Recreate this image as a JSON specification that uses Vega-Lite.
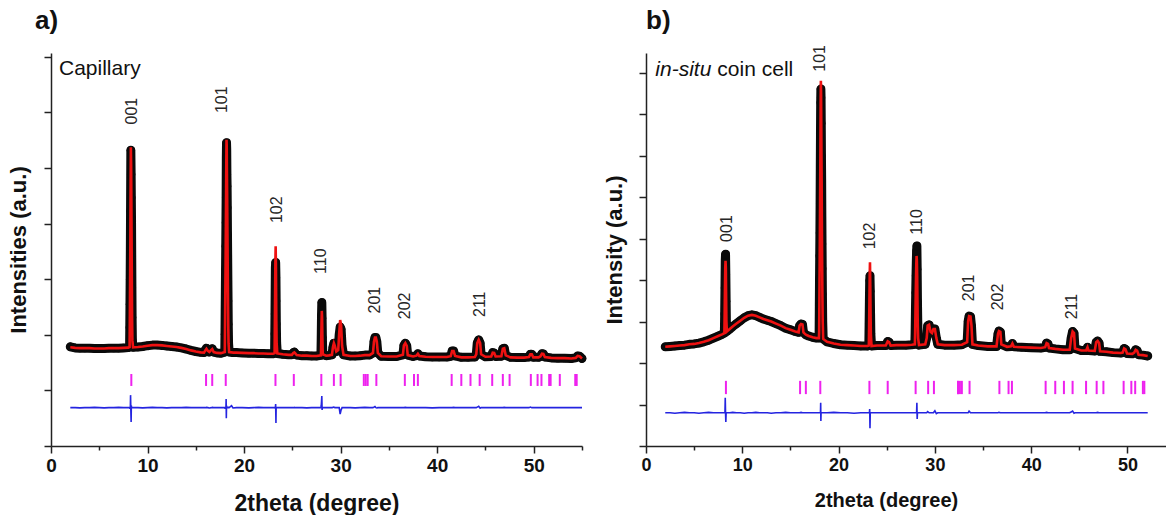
{
  "$schema": "https://vega.github.io/schema/vega-lite/v6.json",
  "padding": {"left": 7, "top": 8, "right": 0, "bottom": 0},
  "spacing": 15,
  "config": {
    "font": "Liberation Sans",
    "view": {"stroke": null},
    "axis": {
      "grid": false,
      "domainColor": "#222222",
      "tickColor": "#222222",
      "domainWidth": 1.5,
      "tickWidth": 1.5,
      "labelFont": "Liberation Sans",
      "labelFontWeight": "bold",
      "labelColor": "#111111",
      "titleFont": "Liberation Sans",
      "titleFontWeight": "bold",
      "titleColor": "#111111"
    }
  },
  "datasets": {
    "capillary": [
      {"tt": 2.0, "obs": 3.57, "calc": 3.55, "diff": 1.38},
      {"tt": 2.5, "obs": 3.53, "calc": 3.53, "diff": 1.38},
      {"tt": 3.0, "obs": 3.52, "calc": 3.52, "diff": 1.37},
      {"tt": 3.5, "obs": 3.52, "calc": 3.52, "diff": 1.38},
      {"tt": 4.0, "obs": 3.52, "calc": 3.52, "diff": 1.38},
      {"tt": 4.5, "obs": 3.51, "calc": 3.51, "diff": 1.39},
      {"tt": 5.0, "obs": 3.51, "calc": 3.51, "diff": 1.38},
      {"tt": 5.5, "obs": 3.51, "calc": 3.51, "diff": 1.37},
      {"tt": 6.0, "obs": 3.52, "calc": 3.52, "diff": 1.38},
      {"tt": 6.5, "obs": 3.52, "calc": 3.52, "diff": 1.38},
      {"tt": 7.0, "obs": 3.52, "calc": 3.52, "diff": 1.39},
      {"tt": 7.5, "obs": 3.53, "calc": 3.53, "diff": 1.38},
      {"tt": 8.0, "obs": 3.54, "calc": 3.54, "diff": 1.38},
      {"tt": 8.14, "obs": 3.56, "calc": 3.56, "diff": 1.38},
      {"tt": 8.16, "obs": 4.26, "calc": 4.35, "diff": 1.36},
      {"tt": 8.18, "obs": 5.1, "calc": 5.3, "diff": 1.36},
      {"tt": 8.2, "obs": 6.0, "calc": 6.3, "diff": 1.38},
      {"tt": 8.22, "obs": 7.07, "calc": 7.5, "diff": 1.38},
      {"tt": 8.24, "obs": 8.45, "calc": 9.0, "diff": 1.83},
      {"tt": 8.27, "obs": 10.64, "calc": 10.75, "diff": 1.3},
      {"tt": 8.3, "obs": 9.77, "calc": 10.1, "diff": 0.86},
      {"tt": 8.32, "obs": 8.93, "calc": 9.0, "diff": 1.45},
      {"tt": 8.34, "obs": 8.15, "calc": 7.9, "diff": 1.4},
      {"tt": 8.36, "obs": 6.9, "calc": 6.7, "diff": 1.38},
      {"tt": 8.38, "obs": 5.69, "calc": 5.6, "diff": 1.38},
      {"tt": 8.4, "obs": 4.62, "calc": 4.6, "diff": 1.38},
      {"tt": 8.43, "obs": 3.8, "calc": 3.8, "diff": 1.38},
      {"tt": 8.5, "obs": 3.55, "calc": 3.55, "diff": 1.38},
      {"tt": 9.0, "obs": 3.56, "calc": 3.56, "diff": 1.38},
      {"tt": 9.5, "obs": 3.58, "calc": 3.58, "diff": 1.37},
      {"tt": 10.0, "obs": 3.61, "calc": 3.61, "diff": 1.38},
      {"tt": 10.5, "obs": 3.63, "calc": 3.63, "diff": 1.39},
      {"tt": 11.0, "obs": 3.63, "calc": 3.63, "diff": 1.38},
      {"tt": 11.5, "obs": 3.62, "calc": 3.62, "diff": 1.38},
      {"tt": 12.0, "obs": 3.6, "calc": 3.6, "diff": 1.37},
      {"tt": 12.5, "obs": 3.58, "calc": 3.58, "diff": 1.38},
      {"tt": 13.0, "obs": 3.56, "calc": 3.56, "diff": 1.38},
      {"tt": 13.5, "obs": 3.53, "calc": 3.53, "diff": 1.38},
      {"tt": 14.0, "obs": 3.49, "calc": 3.49, "diff": 1.39},
      {"tt": 14.5, "obs": 3.44, "calc": 3.44, "diff": 1.38},
      {"tt": 15.0, "obs": 3.4, "calc": 3.4, "diff": 1.38},
      {"tt": 15.5, "obs": 3.37, "calc": 3.37, "diff": 1.38},
      {"tt": 15.85, "obs": 3.36, "calc": 3.36, "diff": 1.38},
      {"tt": 16.0, "obs": 3.46, "calc": 3.45, "diff": 1.38},
      {"tt": 16.1, "obs": 3.52, "calc": 3.5, "diff": 1.39},
      {"tt": 16.25, "obs": 3.42, "calc": 3.42, "diff": 1.38},
      {"tt": 16.4, "obs": 3.38, "calc": 3.38, "diff": 1.37},
      {"tt": 16.6, "obs": 3.47, "calc": 3.46, "diff": 1.38},
      {"tt": 16.7, "obs": 3.5, "calc": 3.49, "diff": 1.39},
      {"tt": 16.85, "obs": 3.38, "calc": 3.38, "diff": 1.38},
      {"tt": 17.2, "obs": 3.35, "calc": 3.35, "diff": 1.38},
      {"tt": 17.6, "obs": 3.34, "calc": 3.34, "diff": 1.38},
      {"tt": 18.0, "obs": 3.38, "calc": 3.38, "diff": 1.38},
      {"tt": 18.02, "obs": 4.02, "calc": 4.1, "diff": 1.36},
      {"tt": 18.04, "obs": 4.86, "calc": 5.0, "diff": 1.36},
      {"tt": 18.06, "obs": 5.58, "calc": 5.7, "diff": 1.37},
      {"tt": 18.08, "obs": 6.36, "calc": 6.5, "diff": 1.38},
      {"tt": 18.1, "obs": 7.19, "calc": 7.4, "diff": 1.38},
      {"tt": 18.12, "obs": 8.03, "calc": 8.3, "diff": 1.38},
      {"tt": 18.14, "obs": 8.93, "calc": 9.3, "diff": 1.69},
      {"tt": 18.16, "obs": 10.37, "calc": 10.3, "diff": 1.0},
      {"tt": 18.18, "obs": 10.91, "calc": 11.02, "diff": 1.45},
      {"tt": 18.2, "obs": 10.67, "calc": 10.8, "diff": 1.38},
      {"tt": 18.22, "obs": 9.77, "calc": 9.9, "diff": 1.38},
      {"tt": 18.24, "obs": 9.35, "calc": 9.2, "diff": 1.38},
      {"tt": 18.26, "obs": 8.57, "calc": 8.4, "diff": 1.38},
      {"tt": 18.28, "obs": 7.61, "calc": 7.5, "diff": 1.38},
      {"tt": 18.3, "obs": 6.77, "calc": 6.6, "diff": 1.38},
      {"tt": 18.32, "obs": 5.94, "calc": 5.8, "diff": 1.38},
      {"tt": 18.34, "obs": 5.22, "calc": 5.0, "diff": 1.39},
      {"tt": 18.36, "obs": 4.38, "calc": 4.3, "diff": 1.38},
      {"tt": 18.39, "obs": 3.7, "calc": 3.7, "diff": 1.38},
      {"tt": 18.45, "obs": 3.38, "calc": 3.38, "diff": 1.38},
      {"tt": 18.7, "obs": 3.37, "calc": 3.37, "diff": 1.45},
      {"tt": 18.85, "obs": 3.36, "calc": 3.36, "diff": 1.37},
      {"tt": 19.2, "obs": 3.36, "calc": 3.36, "diff": 1.38},
      {"tt": 19.8, "obs": 3.35, "calc": 3.35, "diff": 1.38},
      {"tt": 20.5, "obs": 3.34, "calc": 3.34, "diff": 1.37},
      {"tt": 21.0, "obs": 3.34, "calc": 3.34, "diff": 1.38},
      {"tt": 21.5, "obs": 3.33, "calc": 3.33, "diff": 1.39},
      {"tt": 22.0, "obs": 3.33, "calc": 3.33, "diff": 1.38},
      {"tt": 22.5, "obs": 3.32, "calc": 3.32, "diff": 1.38},
      {"tt": 23.0, "obs": 3.32, "calc": 3.32, "diff": 1.38},
      {"tt": 23.16, "obs": 3.34, "calc": 3.34, "diff": 1.38},
      {"tt": 23.18, "obs": 4.03, "calc": 4.1, "diff": 1.38},
      {"tt": 23.2, "obs": 4.75, "calc": 4.9, "diff": 1.37},
      {"tt": 23.22, "obs": 5.58, "calc": 5.8, "diff": 1.37},
      {"tt": 23.24, "obs": 6.41, "calc": 6.6, "diff": 1.38},
      {"tt": 23.27, "obs": 6.6, "calc": 7.19, "diff": 1.51},
      {"tt": 23.3, "obs": 6.05, "calc": 6.4, "diff": 0.83},
      {"tt": 23.32, "obs": 5.22, "calc": 5.4, "diff": 1.38},
      {"tt": 23.34, "obs": 4.39, "calc": 4.5, "diff": 1.38},
      {"tt": 23.37, "obs": 3.7, "calc": 3.7, "diff": 1.38},
      {"tt": 23.44, "obs": 3.33, "calc": 3.33, "diff": 1.38},
      {"tt": 24.0, "obs": 3.3, "calc": 3.3, "diff": 1.38},
      {"tt": 24.6, "obs": 3.28, "calc": 3.28, "diff": 1.38},
      {"tt": 24.95, "obs": 3.28, "calc": 3.28, "diff": 1.38},
      {"tt": 25.1, "obs": 3.36, "calc": 3.35, "diff": 1.38},
      {"tt": 25.2, "obs": 3.38, "calc": 3.37, "diff": 1.39},
      {"tt": 25.3, "obs": 3.33, "calc": 3.33, "diff": 1.38},
      {"tt": 25.45, "obs": 3.27, "calc": 3.27, "diff": 1.38},
      {"tt": 26.0, "obs": 3.25, "calc": 3.25, "diff": 1.38},
      {"tt": 26.5, "obs": 3.25, "calc": 3.25, "diff": 1.37},
      {"tt": 27.0, "obs": 3.24, "calc": 3.24, "diff": 1.38},
      {"tt": 27.5, "obs": 3.24, "calc": 3.24, "diff": 1.38},
      {"tt": 27.96, "obs": 3.26, "calc": 3.26, "diff": 1.38},
      {"tt": 27.99, "obs": 3.9, "calc": 3.8, "diff": 1.45},
      {"tt": 28.02, "obs": 4.7, "calc": 4.4, "diff": 1.6},
      {"tt": 28.05, "obs": 5.16, "calc": 4.86, "diff": 1.8},
      {"tt": 28.08, "obs": 4.6, "calc": 4.6, "diff": 1.3},
      {"tt": 28.11, "obs": 3.9, "calc": 3.9, "diff": 1.38},
      {"tt": 28.15, "obs": 3.3, "calc": 3.3, "diff": 1.38},
      {"tt": 28.5, "obs": 3.25, "calc": 3.25, "diff": 1.38},
      {"tt": 28.8, "obs": 3.26, "calc": 3.26, "diff": 1.38},
      {"tt": 29.1, "obs": 3.28, "calc": 3.28, "diff": 1.38},
      {"tt": 29.2, "obs": 3.55, "calc": 3.55, "diff": 1.39},
      {"tt": 29.3, "obs": 3.7, "calc": 3.7, "diff": 1.4},
      {"tt": 29.4, "obs": 3.6, "calc": 3.6, "diff": 1.38},
      {"tt": 29.55, "obs": 3.4, "calc": 3.4, "diff": 1.38},
      {"tt": 29.75, "obs": 3.45, "calc": 3.45, "diff": 1.38},
      {"tt": 29.85, "obs": 4.0, "calc": 4.05, "diff": 1.38},
      {"tt": 29.95, "obs": 4.28, "calc": 4.53, "diff": 1.15},
      {"tt": 30.05, "obs": 4.2, "calc": 4.35, "diff": 1.3},
      {"tt": 30.15, "obs": 3.6, "calc": 3.6, "diff": 1.38},
      {"tt": 30.3, "obs": 3.28, "calc": 3.28, "diff": 1.38},
      {"tt": 31.0, "obs": 3.24, "calc": 3.24, "diff": 1.38},
      {"tt": 31.5, "obs": 3.24, "calc": 3.24, "diff": 1.37},
      {"tt": 32.0, "obs": 3.25, "calc": 3.25, "diff": 1.38},
      {"tt": 32.5, "obs": 3.27, "calc": 3.27, "diff": 1.39},
      {"tt": 33.0, "obs": 3.27, "calc": 3.27, "diff": 1.38},
      {"tt": 33.35, "obs": 3.35, "calc": 3.35, "diff": 1.38},
      {"tt": 33.45, "obs": 3.75, "calc": 3.75, "diff": 1.4},
      {"tt": 33.55, "obs": 3.9, "calc": 3.9, "diff": 1.42},
      {"tt": 33.65, "obs": 3.9, "calc": 3.9, "diff": 1.38},
      {"tt": 33.75, "obs": 3.75, "calc": 3.75, "diff": 1.37},
      {"tt": 33.85, "obs": 3.35, "calc": 3.35, "diff": 1.38},
      {"tt": 34.2, "obs": 3.23, "calc": 3.23, "diff": 1.38},
      {"tt": 35.0, "obs": 3.22, "calc": 3.22, "diff": 1.38},
      {"tt": 35.8, "obs": 3.22, "calc": 3.22, "diff": 1.38},
      {"tt": 36.45, "obs": 3.28, "calc": 3.28, "diff": 1.38},
      {"tt": 36.55, "obs": 3.62, "calc": 3.62, "diff": 1.38},
      {"tt": 36.7, "obs": 3.7, "calc": 3.7, "diff": 1.39},
      {"tt": 36.85, "obs": 3.6, "calc": 3.6, "diff": 1.38},
      {"tt": 36.95, "obs": 3.27, "calc": 3.27, "diff": 1.38},
      {"tt": 37.5, "obs": 3.22, "calc": 3.22, "diff": 1.38},
      {"tt": 37.85, "obs": 3.25, "calc": 3.25, "diff": 1.38},
      {"tt": 38.0, "obs": 3.32, "calc": 3.32, "diff": 1.38},
      {"tt": 38.15, "obs": 3.24, "calc": 3.24, "diff": 1.38},
      {"tt": 38.8, "obs": 3.21, "calc": 3.21, "diff": 1.38},
      {"tt": 39.5, "obs": 3.2, "calc": 3.2, "diff": 1.37},
      {"tt": 40.2, "obs": 3.2, "calc": 3.2, "diff": 1.38},
      {"tt": 41.0, "obs": 3.2, "calc": 3.2, "diff": 1.38},
      {"tt": 41.4, "obs": 3.23, "calc": 3.23, "diff": 1.38},
      {"tt": 41.55, "obs": 3.42, "calc": 3.42, "diff": 1.38},
      {"tt": 41.7, "obs": 3.42, "calc": 3.42, "diff": 1.39},
      {"tt": 41.85, "obs": 3.24, "calc": 3.24, "diff": 1.38},
      {"tt": 42.5, "obs": 3.19, "calc": 3.19, "diff": 1.38},
      {"tt": 43.2, "obs": 3.19, "calc": 3.19, "diff": 1.38},
      {"tt": 43.9, "obs": 3.2, "calc": 3.2, "diff": 1.38},
      {"tt": 44.05, "obs": 3.3, "calc": 3.3, "diff": 1.38},
      {"tt": 44.15, "obs": 3.7, "calc": 3.7, "diff": 1.4},
      {"tt": 44.3, "obs": 3.82, "calc": 3.82, "diff": 1.43},
      {"tt": 44.45, "obs": 3.7, "calc": 3.7, "diff": 1.36},
      {"tt": 44.55, "obs": 3.3, "calc": 3.3, "diff": 1.38},
      {"tt": 45.0, "obs": 3.21, "calc": 3.21, "diff": 1.38},
      {"tt": 45.6, "obs": 3.22, "calc": 3.22, "diff": 1.38},
      {"tt": 45.75, "obs": 3.36, "calc": 3.36, "diff": 1.38},
      {"tt": 45.9, "obs": 3.35, "calc": 3.35, "diff": 1.38},
      {"tt": 46.05, "obs": 3.22, "calc": 3.22, "diff": 1.38},
      {"tt": 46.65, "obs": 3.23, "calc": 3.23, "diff": 1.38},
      {"tt": 46.8, "obs": 3.5, "calc": 3.5, "diff": 1.38},
      {"tt": 46.95, "obs": 3.52, "calc": 3.52, "diff": 1.39},
      {"tt": 47.1, "obs": 3.26, "calc": 3.26, "diff": 1.38},
      {"tt": 47.6, "obs": 3.19, "calc": 3.19, "diff": 1.38},
      {"tt": 48.3, "obs": 3.18, "calc": 3.18, "diff": 1.38},
      {"tt": 49.0, "obs": 3.18, "calc": 3.18, "diff": 1.38},
      {"tt": 49.5, "obs": 3.2, "calc": 3.2, "diff": 1.38},
      {"tt": 49.65, "obs": 3.3, "calc": 3.3, "diff": 1.4},
      {"tt": 49.8, "obs": 3.3, "calc": 3.3, "diff": 1.38},
      {"tt": 49.95, "obs": 3.19, "calc": 3.19, "diff": 1.38},
      {"tt": 50.5, "obs": 3.19, "calc": 3.19, "diff": 1.38},
      {"tt": 50.7, "obs": 3.23, "calc": 3.23, "diff": 1.38},
      {"tt": 50.85, "obs": 3.32, "calc": 3.32, "diff": 1.38},
      {"tt": 51.0, "obs": 3.31, "calc": 3.31, "diff": 1.38},
      {"tt": 51.15, "obs": 3.2, "calc": 3.2, "diff": 1.38},
      {"tt": 51.8, "obs": 3.17, "calc": 3.17, "diff": 1.38},
      {"tt": 52.5, "obs": 3.16, "calc": 3.16, "diff": 1.38},
      {"tt": 53.2, "obs": 3.16, "calc": 3.16, "diff": 1.38},
      {"tt": 53.9, "obs": 3.15, "calc": 3.15, "diff": 1.38},
      {"tt": 54.35, "obs": 3.17, "calc": 3.17, "diff": 1.38},
      {"tt": 54.55, "obs": 3.24, "calc": 3.24, "diff": 1.38},
      {"tt": 54.75, "obs": 3.23, "calc": 3.23, "diff": 1.38},
      {"tt": 55.0, "obs": 3.15, "calc": 3.15, "diff": 1.38}
    ],
    "capillaryBragg": [
      {"tt": 8.32}, {"tt": 16.06}, {"tt": 16.7}, {"tt": 18.1}, {"tt": 23.25}, {"tt": 25.15},
      {"tt": 28.0}, {"tt": 29.3}, {"tt": 30.0}, {"tt": 32.4}, {"tt": 32.6}, {"tt": 32.8},
      {"tt": 33.7}, {"tt": 36.65}, {"tt": 37.6}, {"tt": 38.0}, {"tt": 41.5}, {"tt": 42.5},
      {"tt": 43.45}, {"tt": 44.4}, {"tt": 45.7}, {"tt": 46.8}, {"tt": 47.5}, {"tt": 49.7},
      {"tt": 50.4}, {"tt": 50.8}, {"tt": 51.6}, {"tt": 51.75}, {"tt": 52.7}, {"tt": 54.3}, {"tt": 54.45}
    ],
    "capillaryHkl": [
      {"tt": 8.34, "y": 12.05, "hkl": "001"},
      {"tt": 17.76, "y": 12.46, "hkl": "101"},
      {"tt": 23.4, "y": 8.5, "hkl": "102"},
      {"tt": 27.97, "y": 6.65, "hkl": "110"},
      {"tt": 33.6, "y": 5.25, "hkl": "201"},
      {"tt": 36.7, "y": 5.04, "hkl": "202"},
      {"tt": 44.4, "y": 5.1, "hkl": "211"}
    ],
    "coincell": [
      {"tt": 2.0, "obs": 2.39, "calc": 2.39, "diff": 0.8},
      {"tt": 2.5, "obs": 2.4, "calc": 2.4, "diff": 0.8},
      {"tt": 3.0, "obs": 2.41, "calc": 2.41, "diff": 0.79},
      {"tt": 3.5, "obs": 2.42, "calc": 2.42, "diff": 0.8},
      {"tt": 4.0, "obs": 2.43, "calc": 2.43, "diff": 0.81},
      {"tt": 4.5, "obs": 2.45, "calc": 2.45, "diff": 0.8},
      {"tt": 5.0, "obs": 2.46, "calc": 2.46, "diff": 0.8},
      {"tt": 5.5, "obs": 2.48, "calc": 2.48, "diff": 0.79},
      {"tt": 6.0, "obs": 2.51, "calc": 2.51, "diff": 0.8},
      {"tt": 6.5, "obs": 2.55, "calc": 2.55, "diff": 0.81},
      {"tt": 7.0, "obs": 2.6, "calc": 2.6, "diff": 0.8},
      {"tt": 7.5, "obs": 2.65, "calc": 2.65, "diff": 0.8},
      {"tt": 7.9, "obs": 2.69, "calc": 2.69, "diff": 0.8},
      {"tt": 8.14, "obs": 2.72, "calc": 2.72, "diff": 0.8},
      {"tt": 8.17, "obs": 3.18, "calc": 3.2, "diff": 0.8},
      {"tt": 8.2, "obs": 3.81, "calc": 3.8, "diff": 0.8},
      {"tt": 8.23, "obs": 4.46, "calc": 4.3, "diff": 1.16},
      {"tt": 8.26, "obs": 4.62, "calc": 4.46, "diff": 0.8},
      {"tt": 8.29, "obs": 4.14, "calc": 4.3, "diff": 0.58},
      {"tt": 8.32, "obs": 3.49, "calc": 3.6, "diff": 0.8},
      {"tt": 8.35, "obs": 2.94, "calc": 3.0, "diff": 0.8},
      {"tt": 8.4, "obs": 2.76, "calc": 2.76, "diff": 0.8},
      {"tt": 8.7, "obs": 2.82, "calc": 2.82, "diff": 0.8},
      {"tt": 9.0, "obs": 2.88, "calc": 2.88, "diff": 0.81},
      {"tt": 9.4, "obs": 2.95, "calc": 2.95, "diff": 0.8},
      {"tt": 9.8, "obs": 3.02, "calc": 3.02, "diff": 0.8},
      {"tt": 10.2, "obs": 3.09, "calc": 3.09, "diff": 0.79},
      {"tt": 10.6, "obs": 3.14, "calc": 3.14, "diff": 0.8},
      {"tt": 11.0, "obs": 3.16, "calc": 3.16, "diff": 0.8},
      {"tt": 11.4, "obs": 3.14, "calc": 3.14, "diff": 0.81},
      {"tt": 11.8, "obs": 3.1, "calc": 3.1, "diff": 0.8},
      {"tt": 12.2, "obs": 3.06, "calc": 3.06, "diff": 0.8},
      {"tt": 12.6, "obs": 3.03, "calc": 3.03, "diff": 0.8},
      {"tt": 13.0, "obs": 3.0, "calc": 3.0, "diff": 0.79},
      {"tt": 13.5, "obs": 2.95, "calc": 2.95, "diff": 0.8},
      {"tt": 14.0, "obs": 2.9, "calc": 2.9, "diff": 0.8},
      {"tt": 14.5, "obs": 2.84, "calc": 2.84, "diff": 0.81},
      {"tt": 15.0, "obs": 2.8, "calc": 2.8, "diff": 0.8},
      {"tt": 15.5, "obs": 2.76, "calc": 2.76, "diff": 0.8},
      {"tt": 15.85, "obs": 2.74, "calc": 2.74, "diff": 0.8},
      {"tt": 15.95, "obs": 2.9, "calc": 2.9, "diff": 0.8},
      {"tt": 16.1, "obs": 2.94, "calc": 2.94, "diff": 0.81},
      {"tt": 16.25, "obs": 2.93, "calc": 2.93, "diff": 0.8},
      {"tt": 16.35, "obs": 2.74, "calc": 2.74, "diff": 0.8},
      {"tt": 16.6, "obs": 2.68, "calc": 2.68, "diff": 0.8},
      {"tt": 16.9, "obs": 2.65, "calc": 2.65, "diff": 0.8},
      {"tt": 17.3, "obs": 2.62, "calc": 2.62, "diff": 0.8},
      {"tt": 17.7, "obs": 2.6, "calc": 2.6, "diff": 0.8},
      {"tt": 17.96, "obs": 2.6, "calc": 2.6, "diff": 0.8},
      {"tt": 17.98, "obs": 2.75, "calc": 2.75, "diff": 0.8},
      {"tt": 18.0, "obs": 3.37, "calc": 3.3, "diff": 0.8},
      {"tt": 18.02, "obs": 4.02, "calc": 4.0, "diff": 0.8},
      {"tt": 18.04, "obs": 4.58, "calc": 4.6, "diff": 0.8},
      {"tt": 18.06, "obs": 5.13, "calc": 5.2, "diff": 0.8},
      {"tt": 18.08, "obs": 5.83, "calc": 5.9, "diff": 0.8},
      {"tt": 18.1, "obs": 6.7, "calc": 6.7, "diff": 0.8},
      {"tt": 18.12, "obs": 7.52, "calc": 7.6, "diff": 0.8},
      {"tt": 18.14, "obs": 8.27, "calc": 8.4, "diff": 1.04},
      {"tt": 18.16, "obs": 8.6, "calc": 8.8, "diff": 0.6},
      {"tt": 18.18, "obs": 8.39, "calc": 8.5, "diff": 0.8},
      {"tt": 18.2, "obs": 7.78, "calc": 7.8, "diff": 0.8},
      {"tt": 18.22, "obs": 6.99, "calc": 7.0, "diff": 0.8},
      {"tt": 18.24, "obs": 6.43, "calc": 6.4, "diff": 0.8},
      {"tt": 18.26, "obs": 5.54, "calc": 5.5, "diff": 0.8},
      {"tt": 18.28, "obs": 4.87, "calc": 4.8, "diff": 0.8},
      {"tt": 18.3, "obs": 4.27, "calc": 4.2, "diff": 0.8},
      {"tt": 18.32, "obs": 3.66, "calc": 3.6, "diff": 0.8},
      {"tt": 18.35, "obs": 3.0, "calc": 3.0, "diff": 0.8},
      {"tt": 18.4, "obs": 2.58, "calc": 2.58, "diff": 0.8},
      {"tt": 18.8, "obs": 2.51, "calc": 2.51, "diff": 0.8},
      {"tt": 19.5, "obs": 2.47, "calc": 2.47, "diff": 0.81},
      {"tt": 20.2, "obs": 2.44, "calc": 2.44, "diff": 0.8},
      {"tt": 20.9, "obs": 2.43, "calc": 2.43, "diff": 0.8},
      {"tt": 21.6, "obs": 2.42, "calc": 2.42, "diff": 0.79},
      {"tt": 22.3, "obs": 2.41, "calc": 2.41, "diff": 0.8},
      {"tt": 23.0, "obs": 2.41, "calc": 2.41, "diff": 0.8},
      {"tt": 23.14, "obs": 2.42, "calc": 2.42, "diff": 0.8},
      {"tt": 23.17, "obs": 2.94, "calc": 2.9, "diff": 0.8},
      {"tt": 23.2, "obs": 3.49, "calc": 3.5, "diff": 0.8},
      {"tt": 23.23, "obs": 3.98, "calc": 4.1, "diff": 0.89},
      {"tt": 23.26, "obs": 4.1, "calc": 4.43, "diff": 0.43},
      {"tt": 23.29, "obs": 3.73, "calc": 3.9, "diff": 0.8},
      {"tt": 23.32, "obs": 3.18, "calc": 3.2, "diff": 0.8},
      {"tt": 23.35, "obs": 2.7, "calc": 2.7, "diff": 0.8},
      {"tt": 23.42, "obs": 2.41, "calc": 2.41, "diff": 0.8},
      {"tt": 24.0, "obs": 2.42, "calc": 2.42, "diff": 0.8},
      {"tt": 24.9, "obs": 2.42, "calc": 2.42, "diff": 0.8},
      {"tt": 25.1, "obs": 2.52, "calc": 2.52, "diff": 0.8},
      {"tt": 25.25, "obs": 2.5, "calc": 2.5, "diff": 0.8},
      {"tt": 25.4, "obs": 2.42, "calc": 2.42, "diff": 0.8},
      {"tt": 26.0, "obs": 2.43, "calc": 2.43, "diff": 0.8},
      {"tt": 27.0, "obs": 2.43, "calc": 2.43, "diff": 0.8},
      {"tt": 27.6, "obs": 2.44, "calc": 2.44, "diff": 0.8},
      {"tt": 27.92, "obs": 2.45, "calc": 2.45, "diff": 0.8},
      {"tt": 27.95, "obs": 2.77, "calc": 2.75, "diff": 0.8},
      {"tt": 27.98, "obs": 3.25, "calc": 3.2, "diff": 0.8},
      {"tt": 28.01, "obs": 3.69, "calc": 3.65, "diff": 0.8},
      {"tt": 28.04, "obs": 4.1, "calc": 4.05, "diff": 0.8},
      {"tt": 28.07, "obs": 4.42, "calc": 4.4, "diff": 0.8},
      {"tt": 28.1, "obs": 4.7, "calc": 4.58, "diff": 0.8},
      {"tt": 28.13, "obs": 4.82, "calc": 4.45, "diff": 1.04},
      {"tt": 28.16, "obs": 4.26, "calc": 4.1, "diff": 0.65},
      {"tt": 28.19, "obs": 3.49, "calc": 3.5, "diff": 0.8},
      {"tt": 28.22, "obs": 3.01, "calc": 2.95, "diff": 0.8},
      {"tt": 28.26, "obs": 2.6, "calc": 2.6, "diff": 0.8},
      {"tt": 28.35, "obs": 2.43, "calc": 2.43, "diff": 0.8},
      {"tt": 29.0, "obs": 2.45, "calc": 2.45, "diff": 0.8},
      {"tt": 29.15, "obs": 2.6, "calc": 2.6, "diff": 0.8},
      {"tt": 29.25, "obs": 2.9, "calc": 2.9, "diff": 0.83},
      {"tt": 29.4, "obs": 2.92, "calc": 2.92, "diff": 0.8},
      {"tt": 29.55, "obs": 2.75, "calc": 2.75, "diff": 0.8},
      {"tt": 29.7, "obs": 2.72, "calc": 2.72, "diff": 0.8},
      {"tt": 29.85, "obs": 2.82, "calc": 2.82, "diff": 0.8},
      {"tt": 30.0, "obs": 2.82, "calc": 2.82, "diff": 0.85},
      {"tt": 30.15, "obs": 2.6, "calc": 2.6, "diff": 0.78},
      {"tt": 30.3, "obs": 2.45, "calc": 2.45, "diff": 0.8},
      {"tt": 31.0, "obs": 2.43, "calc": 2.43, "diff": 0.8},
      {"tt": 32.0, "obs": 2.43, "calc": 2.43, "diff": 0.8},
      {"tt": 32.8, "obs": 2.44, "calc": 2.44, "diff": 0.8},
      {"tt": 33.35, "obs": 2.5, "calc": 2.5, "diff": 0.8},
      {"tt": 33.45, "obs": 3.0, "calc": 3.0, "diff": 0.8},
      {"tt": 33.55, "obs": 3.13, "calc": 3.13, "diff": 0.84},
      {"tt": 33.7, "obs": 3.12, "calc": 3.12, "diff": 0.8},
      {"tt": 33.8, "obs": 2.9, "calc": 2.9, "diff": 0.8},
      {"tt": 33.9, "obs": 2.45, "calc": 2.45, "diff": 0.8},
      {"tt": 34.5, "obs": 2.42, "calc": 2.42, "diff": 0.8},
      {"tt": 35.5, "obs": 2.4, "calc": 2.4, "diff": 0.8},
      {"tt": 36.4, "obs": 2.4, "calc": 2.4, "diff": 0.8},
      {"tt": 36.55, "obs": 2.7, "calc": 2.7, "diff": 0.8},
      {"tt": 36.65, "obs": 2.77, "calc": 2.77, "diff": 0.81},
      {"tt": 36.8, "obs": 2.75, "calc": 2.75, "diff": 0.8},
      {"tt": 36.9, "obs": 2.45, "calc": 2.45, "diff": 0.8},
      {"tt": 37.5, "obs": 2.39, "calc": 2.39, "diff": 0.8},
      {"tt": 37.9, "obs": 2.4, "calc": 2.4, "diff": 0.8},
      {"tt": 38.05, "obs": 2.47, "calc": 2.47, "diff": 0.8},
      {"tt": 38.2, "obs": 2.39, "calc": 2.39, "diff": 0.8},
      {"tt": 39.0, "obs": 2.38, "calc": 2.38, "diff": 0.8},
      {"tt": 40.0, "obs": 2.37, "calc": 2.37, "diff": 0.8},
      {"tt": 41.0, "obs": 2.36, "calc": 2.36, "diff": 0.8},
      {"tt": 41.45, "obs": 2.38, "calc": 2.38, "diff": 0.8},
      {"tt": 41.6, "obs": 2.48, "calc": 2.48, "diff": 0.81},
      {"tt": 41.75, "obs": 2.46, "calc": 2.46, "diff": 0.8},
      {"tt": 41.85, "obs": 2.36, "calc": 2.36, "diff": 0.8},
      {"tt": 42.5, "obs": 2.34, "calc": 2.34, "diff": 0.8},
      {"tt": 43.3, "obs": 2.32, "calc": 2.32, "diff": 0.8},
      {"tt": 44.0, "obs": 2.32, "calc": 2.32, "diff": 0.8},
      {"tt": 44.15, "obs": 2.6, "calc": 2.6, "diff": 0.82},
      {"tt": 44.3, "obs": 2.76, "calc": 2.76, "diff": 0.84},
      {"tt": 44.45, "obs": 2.72, "calc": 2.72, "diff": 0.79},
      {"tt": 44.55, "obs": 2.35, "calc": 2.35, "diff": 0.8},
      {"tt": 45.2, "obs": 2.3, "calc": 2.3, "diff": 0.8},
      {"tt": 45.7, "obs": 2.3, "calc": 2.3, "diff": 0.8},
      {"tt": 45.85, "obs": 2.38, "calc": 2.38, "diff": 0.8},
      {"tt": 45.95, "obs": 2.3, "calc": 2.3, "diff": 0.8},
      {"tt": 46.6, "obs": 2.29, "calc": 2.29, "diff": 0.8},
      {"tt": 46.75, "obs": 2.5, "calc": 2.5, "diff": 0.8},
      {"tt": 46.9, "obs": 2.53, "calc": 2.53, "diff": 0.81},
      {"tt": 47.05, "obs": 2.48, "calc": 2.48, "diff": 0.8},
      {"tt": 47.15, "obs": 2.28, "calc": 2.28, "diff": 0.8},
      {"tt": 47.8, "obs": 2.27, "calc": 2.27, "diff": 0.8},
      {"tt": 48.5, "obs": 2.25, "calc": 2.25, "diff": 0.8},
      {"tt": 49.3, "obs": 2.24, "calc": 2.24, "diff": 0.8},
      {"tt": 49.5, "obs": 2.25, "calc": 2.25, "diff": 0.8},
      {"tt": 49.65, "obs": 2.35, "calc": 2.35, "diff": 0.8},
      {"tt": 49.8, "obs": 2.33, "calc": 2.33, "diff": 0.8},
      {"tt": 49.95, "obs": 2.23, "calc": 2.23, "diff": 0.8},
      {"tt": 50.5, "obs": 2.22, "calc": 2.22, "diff": 0.8},
      {"tt": 50.7, "obs": 2.25, "calc": 2.25, "diff": 0.8},
      {"tt": 50.85, "obs": 2.32, "calc": 2.32, "diff": 0.8},
      {"tt": 51.0, "obs": 2.3, "calc": 2.3, "diff": 0.8},
      {"tt": 51.15, "obs": 2.2, "calc": 2.2, "diff": 0.8},
      {"tt": 51.6, "obs": 2.19, "calc": 2.19, "diff": 0.8},
      {"tt": 52.1, "obs": 2.17, "calc": 2.17, "diff": 0.8}
    ],
    "coincellBragg": [
      {"tt": 8.3}, {"tt": 16.0}, {"tt": 16.6}, {"tt": 18.1}, {"tt": 23.2}, {"tt": 25.1},
      {"tt": 28.0}, {"tt": 29.3}, {"tt": 29.9}, {"tt": 32.4}, {"tt": 32.6}, {"tt": 32.8},
      {"tt": 33.6}, {"tt": 36.7}, {"tt": 37.65}, {"tt": 38.0}, {"tt": 41.5}, {"tt": 42.5},
      {"tt": 43.4}, {"tt": 44.3}, {"tt": 45.7}, {"tt": 46.8}, {"tt": 47.5}, {"tt": 49.6},
      {"tt": 50.4}, {"tt": 50.8}, {"tt": 51.6}, {"tt": 51.75}
    ],
    "coincellHkl": [
      {"tt": 8.39, "y": 5.24, "hkl": "001"},
      {"tt": 18.1, "y": 9.34, "hkl": "101"},
      {"tt": 23.3, "y": 5.06, "hkl": "102"},
      {"tt": 28.14, "y": 5.4, "hkl": "110"},
      {"tt": 33.5, "y": 3.81, "hkl": "201"},
      {"tt": 36.6, "y": 3.59, "hkl": "202"},
      {"tt": 44.2, "y": 3.36, "hkl": "211"}
    ]
  },
  "hconcat": [
    {
      "title": {"text": "a)", "anchor": "start", "frame": "group", "dx": -16, "offset": -2, "baseline": "alphabetic", "fontSize": 26, "fontWeight": "bold", "font": "Liberation Sans", "color": "#111111"},
      "width": 531,
      "height": 393,
      "layer": [
        {
          "data": {"name": "capillaryBragg"},
          "mark": {"type": "rule", "color": "#ee22ee", "strokeWidth": 2},
          "encoding": {
            "x": {"field": "tt", "type": "quantitative", "title": "2theta (degree)", "scale": {"domain": [0, 55], "nice": false, "zero": false}},
            "y": {"datum": 2.16, "type": "quantitative", "title": "Intensities (a.u.)", "scale": {"domain": [0, 14.14], "nice": false}},
            "y2": {"datum": 2.59}
          }
        },
        {
          "data": {"name": "capillary"},
          "mark": {"type": "line", "color": "#2424e0", "strokeWidth": 1.6},
          "encoding": {
            "x": {"field": "tt", "type": "quantitative", "title": "2theta (degree)", "scale": {"domain": [0, 55], "nice": false, "zero": false}},
            "y": {"field": "diff", "type": "quantitative", "title": "Intensities (a.u.)", "scale": {"domain": [0, 14.14], "nice": false}}
          }
        },
        {
          "data": {"name": "capillary"},
          "mark": {"type": "line", "color": "#0a0a0a", "strokeWidth": 9, "strokeJoin": "round", "strokeCap": "round"},
          "encoding": {
            "x": {
              "field": "tt",
              "type": "quantitative",
              "title": "2theta (degree)",
              "scale": {"domain": [0, 55], "nice": false, "zero": false},
              "axis": {
                "values": [0, 5, 10, 15, 20, 25, 30, 35, 40, 45, 50, 55],
                "labelExpr": "datum.value % 10 === 0 ? datum.label : ''",
                "tickSize": {"condition": {"test": "datum.value % 10 === 0", "value": 7}, "value": 4},
                "labelFontSize": 19,
                "labelPadding": 3,
                "labelFlush": false,
                "labelOverlap": false,
                "titleFontSize": 23,
                "titlePadding": 17
              }
            },
            "y": {
              "field": "obs",
              "type": "quantitative",
              "title": "Intensities (a.u.)",
              "scale": {"domain": [0, 14.14], "nice": false},
              "axis": {
                "values": [0, 0.5, 1, 1.5, 2, 2.5, 3, 3.5, 4, 4.5, 5, 5.5, 6, 6.5, 7, 7.5, 8, 8.5, 9, 9.5, 10, 10.5, 11, 11.5, 12, 12.5, 13, 13.5, 14],
                "labels": false,
                "tickSize": {"condition": {"test": "datum.value % 1 === 0", "value": 7}, "value": 4},
                "titleFontSize": 22,
                "titlePadding": 13
              }
            }
          }
        },
        {
          "data": {"name": "capillary"},
          "mark": {"type": "point", "filled": true, "color": "#0a0a0a", "size": 70, "opacity": 1},
          "encoding": {
            "x": {"field": "tt", "type": "quantitative", "title": "2theta (degree)", "scale": {"domain": [0, 55], "nice": false, "zero": false}},
            "y": {"field": "obs", "type": "quantitative", "title": "Intensities (a.u.)", "scale": {"domain": [0, 14.14], "nice": false}}
          }
        },
        {
          "data": {"name": "capillary"},
          "mark": {"type": "line", "color": "#ee1111", "strokeWidth": 2.6},
          "encoding": {
            "x": {"field": "tt", "type": "quantitative", "title": "2theta (degree)", "scale": {"domain": [0, 55], "nice": false, "zero": false}},
            "y": {"field": "calc", "type": "quantitative", "title": "Intensities (a.u.)", "scale": {"domain": [0, 14.14], "nice": false}}
          }
        },
        {
          "data": {"name": "capillaryHkl"},
          "mark": {"type": "text", "angle": 270, "align": "center", "baseline": "middle", "fontSize": 16, "color": "#262626"},
          "encoding": {
            "x": {"field": "tt", "type": "quantitative", "title": "2theta (degree)", "scale": {"domain": [0, 55], "nice": false, "zero": false}},
            "y": {"field": "y", "type": "quantitative", "title": "Intensities (a.u.)", "scale": {"domain": [0, 14.14], "nice": false}},
            "text": {"field": "hkl"}
          }
        },
        {
          "data": {"values": [{"note": "Capillary"}]},
          "mark": {"type": "text", "align": "left", "baseline": "alphabetic", "fontSize": 21, "color": "#111111"},
          "encoding": {
            "x": {"datum": 0.83, "type": "quantitative", "title": "2theta (degree)"},
            "y": {"datum": 13.35, "type": "quantitative", "title": "Intensities (a.u.)"},
            "text": {"field": "note"}
          }
        }
      ]
    },
    {
      "title": {"text": "b)", "anchor": "start", "frame": "group", "dx": 0, "offset": -10, "baseline": "alphabetic", "fontSize": 26, "fontWeight": "bold", "font": "Liberation Sans", "color": "#111111"},
      "width": 520,
      "height": 393,
      "layer": [
        {
          "data": {"name": "coincellBragg"},
          "mark": {"type": "rule", "color": "#ee22ee", "strokeWidth": 2},
          "encoding": {
            "x": {"field": "tt", "type": "quantitative", "title": "2theta (degree)", "scale": {"domain": [0, 54], "nice": false, "zero": false}},
            "y": {"datum": 1.25, "type": "quantitative", "title": "Intensity (a.u.)", "scale": {"domain": [0, 9.47], "nice": false}},
            "y2": {"datum": 1.57}
          }
        },
        {
          "data": {"name": "coincell"},
          "mark": {"type": "line", "color": "#2424e0", "strokeWidth": 1.6},
          "encoding": {
            "x": {"field": "tt", "type": "quantitative", "title": "2theta (degree)", "scale": {"domain": [0, 54], "nice": false, "zero": false}},
            "y": {"field": "diff", "type": "quantitative", "title": "Intensity (a.u.)", "scale": {"domain": [0, 9.47], "nice": false}}
          }
        },
        {
          "data": {"name": "coincell"},
          "mark": {"type": "line", "color": "#0a0a0a", "strokeWidth": 9, "strokeJoin": "round", "strokeCap": "round"},
          "encoding": {
            "x": {
              "field": "tt",
              "type": "quantitative",
              "title": "2theta (degree)",
              "scale": {"domain": [0, 54], "nice": false, "zero": false},
              "axis": {
                "values": [0, 5, 10, 15, 20, 25, 30, 35, 40, 45, 50],
                "labelExpr": "datum.value % 10 === 0 ? datum.label : ''",
                "tickSize": {"condition": {"test": "datum.value % 10 === 0", "value": 7}, "value": 4},
                "labelFontSize": 18,
                "labelPadding": 3,
                "labelFlush": false,
                "labelOverlap": false,
                "titleFontSize": 20,
                "titlePadding": 16,
                "titleX": 240
              }
            },
            "y": {
              "field": "obs",
              "type": "quantitative",
              "title": "Intensity (a.u.)",
              "scale": {"domain": [0, 9.47], "nice": false},
              "axis": {
                "values": [0, 0.5, 1, 1.5, 2, 2.5, 3, 3.5, 4, 4.5, 5, 5.5, 6, 6.5, 7, 7.5, 8, 8.5, 9],
                "labels": false,
                "tickSize": {"condition": {"test": "datum.value % 1 === 0", "value": 7}, "value": 4},
                "titleFontSize": 22,
                "titlePadding": 12
              }
            }
          }
        },
        {
          "data": {"name": "coincell"},
          "mark": {"type": "point", "filled": true, "color": "#0a0a0a", "size": 70, "opacity": 1},
          "encoding": {
            "x": {"field": "tt", "type": "quantitative", "title": "2theta (degree)", "scale": {"domain": [0, 54], "nice": false, "zero": false}},
            "y": {"field": "obs", "type": "quantitative", "title": "Intensity (a.u.)", "scale": {"domain": [0, 9.47], "nice": false}}
          }
        },
        {
          "data": {"name": "coincell"},
          "mark": {"type": "line", "color": "#ee1111", "strokeWidth": 2.6},
          "encoding": {
            "x": {"field": "tt", "type": "quantitative", "title": "2theta (degree)", "scale": {"domain": [0, 54], "nice": false, "zero": false}},
            "y": {"field": "calc", "type": "quantitative", "title": "Intensity (a.u.)", "scale": {"domain": [0, 9.47], "nice": false}}
          }
        },
        {
          "data": {"name": "coincellHkl"},
          "mark": {"type": "text", "angle": 270, "align": "center", "baseline": "middle", "fontSize": 16, "color": "#262626"},
          "encoding": {
            "x": {"field": "tt", "type": "quantitative", "title": "2theta (degree)", "scale": {"domain": [0, 54], "nice": false, "zero": false}},
            "y": {"field": "y", "type": "quantitative", "title": "Intensity (a.u.)", "scale": {"domain": [0, 9.47], "nice": false}},
            "text": {"field": "hkl"}
          }
        },
        {
          "data": {"values": [{"note": "in-situ"}]},
          "mark": {"type": "text", "align": "left", "baseline": "alphabetic", "fontSize": 21, "fontStyle": "italic", "color": "#111111"},
          "encoding": {
            "x": {"datum": 0.97, "type": "quantitative", "title": "2theta (degree)"},
            "y": {"datum": 8.92, "type": "quantitative", "title": "Intensity (a.u.)"},
            "text": {"field": "note"}
          }
        },
        {
          "data": {"values": [{"note": "coin cell"}]},
          "mark": {"type": "text", "align": "left", "baseline": "alphabetic", "fontSize": 21, "dx": 62, "color": "#111111"},
          "encoding": {
            "x": {"datum": 0.97, "type": "quantitative", "title": "2theta (degree)"},
            "y": {"datum": 8.92, "type": "quantitative", "title": "Intensity (a.u.)"},
            "text": {"field": "note"}
          }
        }
      ]
    }
  ]
}
